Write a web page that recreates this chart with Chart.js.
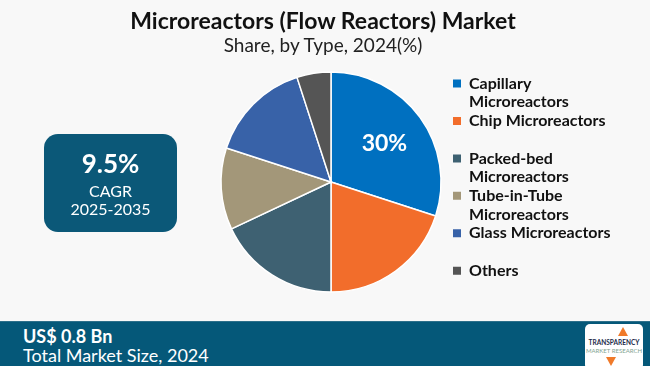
<!DOCTYPE html>
<html>
<head>
<meta charset="utf-8">
<script src="https://cdn.jsdelivr.net/npm/chart.js@4.4.1/dist/chart.umd.min.js"></script>
<style>
  html, body { margin: 0; padding: 0; }
  body { width: 650px; height: 366px; background: #f8f8f8; position: relative; overflow: hidden; font-family: Lato, "Open Sans", sans-serif; color: #111; }
  #chart { position: absolute; left: 0; top: 0; }
  .title { position: absolute; left: 0; width: 646px; text-align: center; top: 7px; line-height: 26px; font-size: 23px; font-weight: 700; }
  .subtitle { position: absolute; left: 0; width: 646px; text-align: center; top: 34px; line-height: 22px; font-size: 19px; font-weight: 400; color: #222; }
  .cagr { position: absolute; left: 44px; top: 134px; width: 133px; height: 98px; border-radius: 14px; background: #0b5878; color: #fff; text-align: center; }
  .cagr div { position: absolute; left: 0; width: 100%; }
  .cagr .big { top: 14px; line-height: 30px; font-size: 26px; font-weight: 700; }
  .cagr .small1 { top: 48px; line-height: 18px; font-size: 16px; }
  .cagr .small2 { top: 66px; line-height: 18px; font-size: 16px; }
  .footer { position: absolute; left: 0; top: 321px; width: 650px; height: 45px; background: #055879; border-top: 1px solid #2d6f8a; color: #fff; }
  .footer .v { position: absolute; left: 23px; top: 4px; line-height: 20px; font-size: 18px; font-weight: 700; }
  .footer .l { position: absolute; left: 23px; top: 23px; line-height: 20px; font-size: 18px; }
  .logo { position: absolute; left: 585px; top: 2px; width: 58px; height: 46px; background: #fff; border-radius: 5px; }
  .logo .t1 { position: absolute; left: 0; width: 58px; top: 15px; text-align: center; font-size: 6.5px; font-weight: 700; color: #1c2b4a; }
  .logo .t2 { position: absolute; left: 0; width: 58px; top: 23px; text-align: center; font-size: 6px; color: #7fa391; }
  .logo .up { position: absolute; left: 33px; top: 3px; width: 0; height: 0; border-left: 5px solid transparent; border-right: 5px solid transparent; border-bottom: 9px solid #f07a2a; }
  .logo .dn { position: absolute; left: 21px; top: 33px; width: 0; height: 0; border-left: 5px solid transparent; border-right: 5px solid transparent; border-top: 9px solid #f07a2a; }
</style>
</head>
<body>
<canvas id="chart" width="650" height="366"></canvas>
<div class="title">Microreactors (Flow Reactors) Market</div>
<div class="subtitle">Share, by Type, 2024(%)</div>
<div class="cagr">
  <div class="big">9.5%</div>
  <div class="small1">CAGR</div>
  <div class="small2">2025-2035</div>
</div>
<div class="footer">
  <div class="v">US$ 0.8 Bn</div>
  <div class="l">Total Market Size, 2024</div>
  <div class="logo">
    <div class="up"></div>
    <div class="t1">TRANSPARENCY</div>
    <div class="t2">MARKET RESEARCH</div>
    <div class="dn"></div>
  </div>
</div>
<script>
const types = ['Capillary Microreactors', 'Chip Microreactors', 'Packed-bed Microreactors', 'Tube-in-Tube Microreactors', 'Glass Microreactors', 'Others'];
const shares = [30, 20, 18, 12, 15, 5];
const colors = ['#0070c0', '#f26d2b', '#3e6172', '#a39779', '#3862a8', '#555555'];
// legend text wrapped like in the picture
const legendLines = [
    ['Capillary', 'Microreactors'],
    ['Chip Microreactors', ''],
    ['Packed-bed', 'Microreactors'],
    ['Tube-in-Tube', 'Microreactors'],
    ['Glass Microreactors', ''],
    ['Others', '']
];

const legendFont = { family: 'Lato, sans-serif', size: 16, weight: 'bold', lineHeight: 1.17 };
const boxW = 8;
const legendLeft = 453;

const sliceLabel = {
    id: 'sliceLabel',
    afterDatasetsDraw(chart) {
        const arc = chart.getDatasetMeta(0).data[0];
        const p = arc.getProps(['x', 'y', 'startAngle', 'endAngle', 'outerRadius'], true);
        const mid = (p.startAngle + p.endAngle) / 2;
        const r = p.outerRadius * 0.6;
        const ctx = chart.ctx;
        ctx.save();
        ctx.fillStyle = '#ffffff';
        ctx.font = 'bold 23px Lato, sans-serif';
        ctx.textAlign = 'center';
        ctx.textBaseline = 'middle';
        ctx.fillText(shares[0] + '%', p.x + Math.cos(mid) * r, p.y + Math.sin(mid) * r);
        ctx.restore();
    }
};

const baseLabels = (Chart.overrides.pie || Chart.overrides.doughnut).plugins.legend.labels.generateLabels;

const ctx = document.getElementById('chart').getContext('2d');

// work out the legend width so it sits at a fixed x
ctx.font = 'bold ' + legendFont.size + 'px ' + legendFont.family;
let longest = 0;
legendLines.forEach(lines => lines.forEach(t => { longest = Math.max(longest, ctx.measureText(t).width); }));
const legendW = Math.ceil(boxW + legendFont.size / 2 + longest + 10 + 2);

const pieChart = new Chart(ctx, {
    type: 'pie',
    data: {
        labels: types,
        datasets: [{
            data: shares,
            backgroundColor: colors,
            borderColor: '#ffffff',
            borderWidth: 1.5,
            hoverOffset: 0,
            clip: false
        }]
    },
    options: {
        responsive: false,
        animation: false,
        radius: 110,
        layout: {
            padding: { top: 75.5, bottom: 77.5, left: 2 * 331 - legendLeft, right: 650 - legendLeft - legendW }
        },
        plugins: {
            tooltip: { enabled: false },
            legend: {
                position: 'right',
                align: 'start',
                maxWidth: legendW,
                labels: {
                    boxWidth: boxW,
                    boxHeight: 8,
                    padding: 0,
                    color: '#111111',
                    font: legendFont,
                    generateLabels(chart) {
                        return baseLabels(chart).map((item, i) => ({
                            ...item,
                            text: legendLines[i],
                            lineWidth: 0
                        }));
                    }
                }
            }
        }
    },
    plugins: [sliceLabel]
});
</script>
</body>
</html>
